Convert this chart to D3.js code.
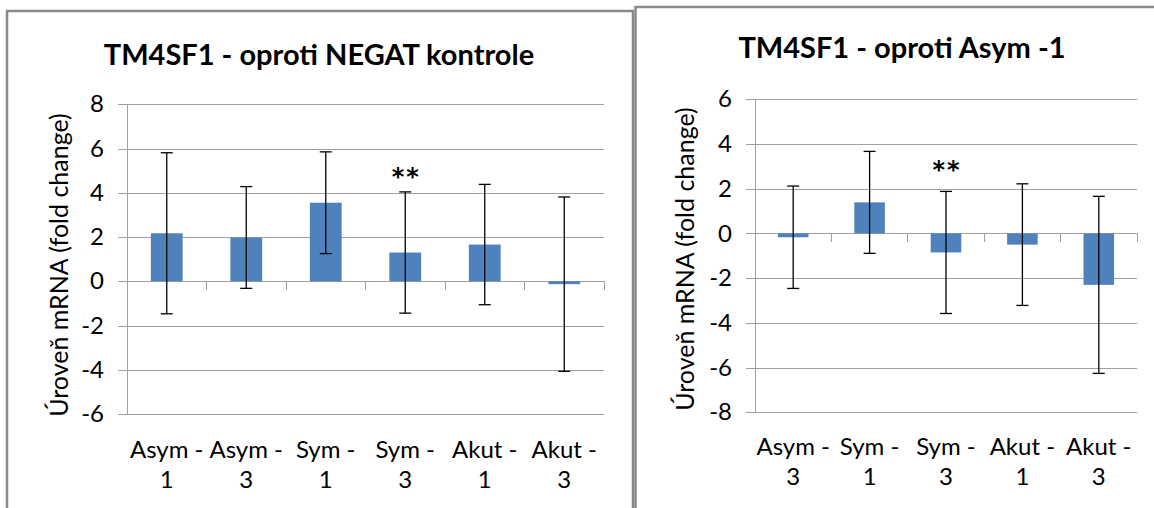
<!DOCTYPE html>
<html>
<head>
<meta charset="utf-8">
<script src="https://cdn.jsdelivr.net/npm/d3@7"></script>
<style>
  html, body { margin: 0; padding: 0; background: #fff; }
  svg { display: block; }
  text { font-family: Lato, "Open Sans", sans-serif; fill: #000; }
</style>
</head>
<body>
<svg id="chart" width="1154" height="508"></svg>
<script>
// TM4SF1 relative expression, versus negative control
const categoriesNegat = ["Asym - 1", "Asym - 3", "Sym - 1", "Sym - 3", "Akut - 1", "Akut - 3"];
const valuesNegat = [2.17, 1.98, 3.55, 1.30, 1.66, -0.13];
const errorsNegat = [3.64, 2.30, 2.30, 2.74, 2.72, 3.94];
const ticksNegat = [-6, -4, -2, 0, 2, 4, 6, 8];
const starredNegat = ["Sym - 3"];

// TM4SF1 relative expression, versus Asym - 1
const categoriesAsym = ["Asym - 3", "Sym - 1", "Sym - 3", "Akut - 1", "Akut - 3"];
const valuesAsym = [-0.17, 1.39, -0.85, -0.50, -2.30];
const errorsAsym = [2.29, 2.28, 2.73, 2.72, 3.96];
const ticksAsym = [-8, -6, -4, -2, 0, 2, 4, 6];
const starredAsym = ["Sym - 3"];

const yTitle = "Úroveň mRNA (fold change)";

const svg = d3.select("#chart");
svg.append("rect").attr("width", 1154).attr("height", 508).attr("fill", "#fff");

// panel frames
const frameColor = "#8a8a8a";
svg.append("rect").attr("x", 7).attr("y", 11).attr("width", 626).attr("height", 560)
  .attr("fill", "#fff").attr("stroke", frameColor).attr("stroke-width", 2.5);
svg.append("rect").attr("x", 635.5).attr("y", 7).attr("width", 560).attr("height", 560)
  .attr("fill", "#fff").attr("stroke", frameColor).attr("stroke-width", 2.5);

function drawPanel(opt) {
  const g = svg.append("g");
  const x = d3.scaleBand().domain(opt.categories).range([opt.left, opt.right]).paddingInner(0).paddingOuter(0);
  const y = d3.scaleLinear().domain(d3.extent(opt.ticks)).range([opt.bottom, opt.top]);
  const gridColor = "#a0a0a0";

  // gridlines + value labels
  const yAxis = d3.axisLeft(y).tickValues(opt.ticks).tickSize(-(opt.right - opt.left + 9)).tickPadding(14)
    .tickFormat(d => String(d));
  const ya = g.append("g").attr("transform", `translate(${opt.left - 9},0)`).call(yAxis);
  ya.select(".domain").remove();
  ya.selectAll(".tick line").attr("stroke", gridColor).attr("stroke-width", 1).attr("shape-rendering", "crispEdges");
  ya.selectAll(".tick text").attr("font-size", 24).attr("font-family", "Lato").attr("fill", "#000");

  // vertical axis line
  g.append("line").attr("x1", opt.left).attr("x2", opt.left).attr("y1", opt.top).attr("y2", opt.bottom)
    .attr("stroke", gridColor).attr("shape-rendering", "crispEdges");

  // category tick marks at band boundaries along the zero line
  const bounds = opt.categories.map(c => x(c) + x.bandwidth());
  g.selectAll("line.ctick").data(bounds).join("line").attr("class", "ctick")
    .attr("x1", d => d).attr("x2", d => d).attr("y1", y(0)).attr("y2", y(0) + 9)
    .attr("stroke", gridColor).attr("shape-rendering", "crispEdges");

  // bars
  const bw = x.bandwidth() * 0.4;
  const rows = opt.categories.map((c, i) => ({ c, v: opt.values[i], e: opt.errors[i] }));
  g.selectAll("rect.bar").data(rows).join("rect").attr("class", "bar")
    .attr("x", d => x(d.c) + x.bandwidth() / 2 - bw / 2)
    .attr("width", bw)
    .attr("y", d => y(Math.max(0, d.v)))
    .attr("height", d => Math.abs(y(d.v) - y(0)))
    .attr("fill", "#4f81bd");

  // error bars
  const cap = 6;
  const eb = g.selectAll("g.err").data(rows).join("g").attr("class", "err")
    .attr("transform", d => `translate(${x(d.c) + x.bandwidth() / 2},0)`);
  eb.append("line").attr("y1", d => y(d.v + d.e)).attr("y2", d => y(d.v - d.e)).attr("stroke", "#000").attr("stroke-width", 1.3);
  eb.append("line").attr("x1", -cap).attr("x2", cap).attr("y1", d => y(d.v + d.e)).attr("y2", d => y(d.v + d.e)).attr("stroke", "#000").attr("stroke-width", 1.3);
  eb.append("line").attr("x1", -cap).attr("x2", cap).attr("y1", d => y(d.v - d.e)).attr("y2", d => y(d.v - d.e)).attr("stroke", "#000").attr("stroke-width", 1.3);

  // significance marks
  g.selectAll("text.star").data(rows.filter(d => opt.starred.includes(d.c))).join("text").attr("class", "star")
    .attr("x", d => x(d.c) + x.bandwidth() / 2 + 1)
    .attr("y", d => y(d.v + d.e) - opt.starGap)
    .attr("text-anchor", "middle").attr("font-size", 24).attr("font-weight", "bold")
    .style("font-family", "'DejaVu Sans'").attr("letter-spacing", 2)
    .text("**");

  // category labels, wrapped on two lines
  const lbl = g.selectAll("text.cat").data(opt.categories).join("text").attr("class", "cat")
    .attr("text-anchor", "middle").attr("font-size", 24);
  lbl.each(function (c) {
    const parts = c.split(" - ");
    const cx = x(c) + x.bandwidth() / 2;
    const t = d3.select(this);
    t.append("tspan").attr("x", cx).attr("y", opt.bottom + opt.labelGap).text(parts[0] + " -");
    t.append("tspan").attr("x", cx).attr("y", opt.bottom + opt.labelGap + 30).text(parts[1]);
  });

  // y axis title
  svg.append("text").attr("transform", `translate(${opt.yTitleX},${opt.yTitleY}) rotate(-90)`)
    .attr("text-anchor", "middle").attr("font-size", 25).text(yTitle);

  // chart title
  svg.append("text").attr("x", opt.titleX).attr("y", opt.titleY).attr("text-anchor", "middle")
    .attr("font-size", 29).attr("font-weight", "bold").text(opt.title);
}

drawPanel({
  categories: categoriesNegat, values: valuesNegat, errors: errorsNegat, ticks: ticksNegat, starred: starredNegat,
  left: 127, right: 604, top: 104.3, bottom: 414, labelGap: 44, starGap: 7,
  yTitleX: 68, yTitleY: 265, title: "TM4SF1 - oproti NEGAT kontrole", titleX: 319, titleY: 65
});

drawPanel({
  categories: categoriesAsym, values: valuesAsym, errors: errorsAsym, ticks: ticksAsym, starred: starredAsym,
  left: 755, right: 1137, top: 99.3, bottom: 412.3, labelGap: 43, starGap: 13,
  yTitleX: 694, yTitleY: 259, title: "TM4SF1 - oproti Asym -1", titleX: 902, titleY: 58
});
</script>
</body>
</html>
